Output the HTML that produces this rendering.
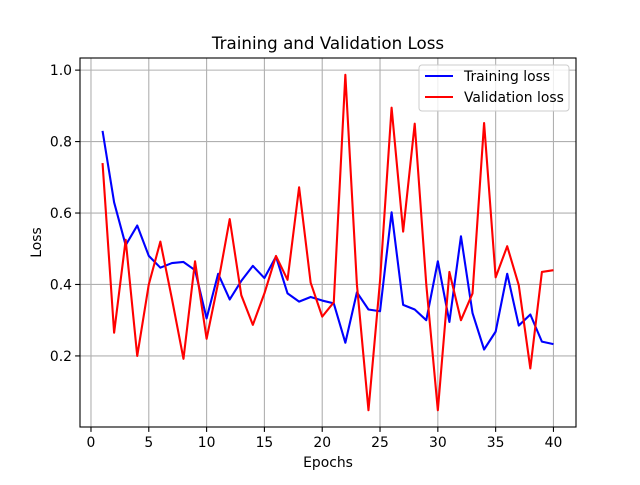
<!DOCTYPE html>
<html><head><meta charset="utf-8"><style>
body{margin:0;background:#fff;}
svg text{font-family:"DejaVu Sans","Liberation Sans",sans-serif;fill:#000;}
</style></head><body>
<svg id="chart" width="640" height="480" xmlns="http://www.w3.org/2000/svg">
<rect width="640" height="480" fill="#fff"/>
<g id="grid"></g>
<g id="ticks"></g>
<g id="lines"></g>
<rect x="80" y="58" width="496" height="369" fill="none" stroke="#000" stroke-width="1.1"/>
<text x="328" y="49" font-size="16.7" text-anchor="middle">Training and Validation Loss</text>
<text x="328" y="467" font-size="13.9" text-anchor="middle">Epochs</text>
<text x="0" y="0" font-size="13.9" text-anchor="middle" transform="translate(41,242.5) rotate(-90)">Loss</text>
<g>
<rect x="419" y="65" width="150" height="46" rx="3" fill="#fff" fill-opacity="0.8" stroke="#ccc"/>
<line x1="425" y1="76" x2="453" y2="76" stroke="#0000ff" stroke-width="2.1"/>
<text x="464" y="81" font-size="13.9">Training loss</text>
<line x1="425" y1="97" x2="453" y2="97" stroke="#ff0000" stroke-width="2.1"/>
<text x="464" y="102" font-size="13.9">Validation loss</text>
</g>
</svg>
<script>
const epochs=[1,2,3,4,5,6,7,8,9,10,11,12,13,14,15,16,17,18,19,20,21,22,23,24,25,26,27,28,29,30,31,32,33,34,35,36,37,38,39,40];
const trainLoss=[0.83,0.63,0.51,0.565,0.48,0.447,0.46,0.463,0.44,0.305,0.43,0.358,0.41,0.452,0.418,0.478,0.375,0.352,0.365,0.355,0.347,0.237,0.378,0.33,0.325,0.602,0.343,0.33,0.3,0.465,0.295,0.535,0.32,0.218,0.268,0.43,0.285,0.316,0.24,0.233];
const valLoss=[0.74,0.265,0.525,0.2,0.4,0.52,0.36,0.192,0.465,0.248,0.405,0.583,0.37,0.287,0.375,0.48,0.413,0.672,0.405,0.31,0.35,0.987,0.4,0.048,0.41,0.895,0.548,0.85,0.4,0.048,0.435,0.3,0.375,0.852,0.42,0.507,0.398,0.165,0.435,0.44];
const xTicks=[0,5,10,15,20,25,30,35,40];
const yTicks=[0.2,0.4,0.6,0.8,1.0];
const NS="http://www.w3.org/2000/svg";
const L=80,R=576,T=58,B=427;
const allV=trainLoss.concat(valLoss);
const xmin=Math.min(...epochs),xmax=Math.max(...epochs),xm=(xmax-xmin)*0.05;
const ymn=Math.min(...allV),ymx=Math.max(...allV),ym=(ymx-ymn)*0.05;
const x0=xmin-xm,x1=xmax+xm,y0=ymn-ym,y1=ymx+ym;
const X=v=>L+(v-x0)/(x1-x0)*(R-L);
const Y=v=>B-(v-y0)/(y1-y0)*(B-T);
function mk(tag,attrs,parent){const e=document.createElementNS(NS,tag);for(const k in attrs)e.setAttribute(k,attrs[k]);document.getElementById(parent).appendChild(e);return e;}
xTicks.forEach(t=>{
  const g=mk('line',{x1:X(t),x2:X(t),y1:T,y2:B,stroke:'#b0b0b0','stroke-width':1.1},'grid');
  
  
  mk('line',{x1:X(t),x2:X(t),y1:B,y2:B+4.9,stroke:'#000','stroke-width':1.1},'ticks');
  const tx=mk('text',{x:X(t),y:B+20,'font-size':13.9,'text-anchor':'middle'},'ticks');
  tx.textContent=t;
  
  
});
yTicks.forEach(t=>{
  const g=mk('line',{x1:L,x2:R,y1:Y(t),y2:Y(t),stroke:'#b0b0b0','stroke-width':1.1},'grid');
  
  
  mk('line',{x1:L-4.9,x2:L,y1:Y(t),y2:Y(t),stroke:'#000','stroke-width':1.1},'ticks');
  const tx=mk('text',{x:L-8,y:Y(t)+5,'font-size':13.9,'text-anchor':'end'},'ticks');
  tx.textContent=t.toFixed(1);
  
  
});
const p1=mk('polyline',{points:epochs.map((e,i)=>X(e)+','+Y(trainLoss[i])).join(' '),fill:'none',stroke:'#0000ff','stroke-width':2.1,'stroke-linejoin':'round'},'lines');


const p2=mk('polyline',{points:epochs.map((e,i)=>X(e)+','+Y(valLoss[i])).join(' '),fill:'none',stroke:'#ff0000','stroke-width':2.1,'stroke-linejoin':'round'},'lines');


</script>
</body></html>
